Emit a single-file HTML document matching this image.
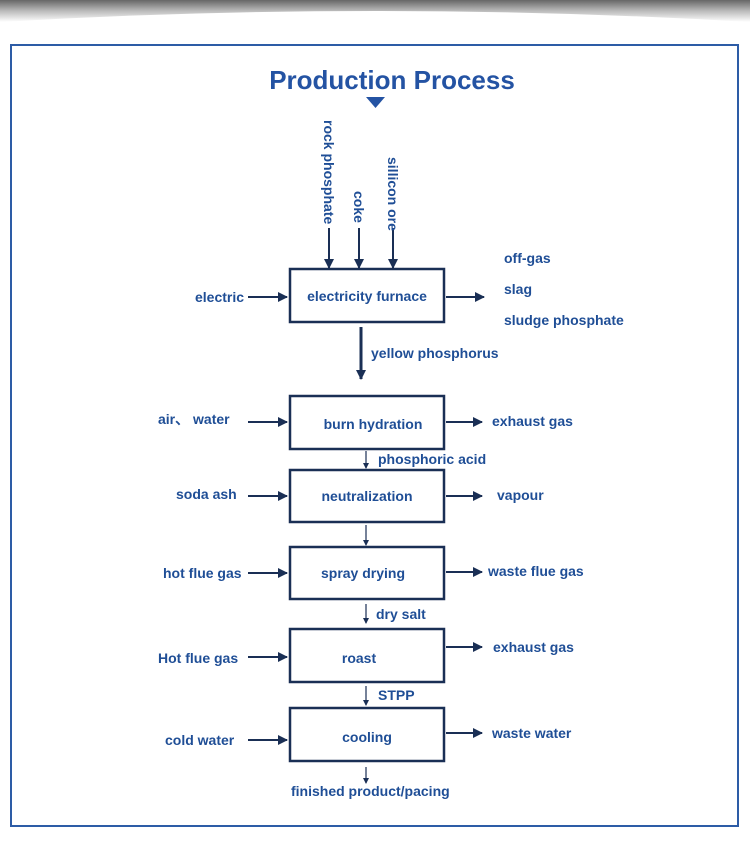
<!DOCTYPE html>
<html><head><meta charset="utf-8"><style>
html,body{margin:0;padding:0;background:#fff;width:750px;height:847px;overflow:hidden}
svg{display:block}
text{font-family:"Liberation Sans",Arial,sans-serif;fill:#1f4e96;font-size:14px;font-weight:bold}
</style></head><body>
<svg width="750" height="847" viewBox="0 0 750 847" xmlns="http://www.w3.org/2000/svg">
<defs>
<linearGradient id="sh" x1="0" y1="0" x2="0" y2="1">
<stop offset="0" stop-color="#666"/><stop offset="0.5" stop-color="#bbb"/><stop offset="1" stop-color="#fff"/>
</linearGradient>
<marker id="a" markerWidth="10" markerHeight="10" refX="9" refY="5" orient="auto" markerUnits="userSpaceOnUse">
<path d="M0,0 L10,5 L0,10 Z" fill="#1a2f55"/></marker>
<marker id="s" markerWidth="6" markerHeight="6" refX="5" refY="3" orient="auto" markerUnits="userSpaceOnUse">
<path d="M0,0 L6,3 L0,6 Z" fill="#1a2f55"/></marker>
</defs>
<path d="M0,0 L750,0 L750,22 Q375,0 0,22 Z" fill="url(#sh)"/>
<rect x="11" y="45" width="727" height="781" fill="none" stroke="#2d5ca6" stroke-width="2"/>
<text x="392" y="89" text-anchor="middle" style="font-size:26px;font-weight:bold;fill:#2453a3">Production Process</text>
<path d="M366,97 L385,97 L375.5,108 Z" fill="#2453a3"/>
<g stroke="#1a2f55" stroke-width="2.5" fill="none">
<rect x="290" y="269" width="154" height="53"/>
<rect x="290" y="396" width="154" height="53"/>
<rect x="290" y="470" width="154" height="52"/>
<rect x="290" y="547" width="154" height="52"/>
<rect x="290" y="629" width="154" height="53"/>
<rect x="290" y="708" width="154" height="53"/>
</g>
<g stroke="#1a2f55" stroke-width="2" fill="none">
<line x1="329" y1="228" x2="329" y2="268" marker-end="url(#a)"/>
<line x1="359" y1="228" x2="359" y2="268" marker-end="url(#a)"/>
<line x1="393" y1="228" x2="393" y2="268" marker-end="url(#a)"/>
<line x1="248" y1="297" x2="287" y2="297" marker-end="url(#a)"/>
<line x1="446" y1="297" x2="484" y2="297" marker-end="url(#a)"/>
<line x1="361" y1="327" x2="361" y2="379" stroke-width="3" marker-end="url(#a)"/>
<line x1="248" y1="422" x2="287" y2="422" marker-end="url(#a)"/>
<line x1="446" y1="422" x2="482" y2="422" marker-end="url(#a)"/>
<line x1="248" y1="496" x2="287" y2="496" marker-end="url(#a)"/>
<line x1="446" y1="496" x2="482" y2="496" marker-end="url(#a)"/>
<line x1="248" y1="573" x2="287" y2="573" marker-end="url(#a)"/>
<line x1="446" y1="572" x2="482" y2="572" marker-end="url(#a)"/>
<line x1="248" y1="657" x2="287" y2="657" marker-end="url(#a)"/>
<line x1="446" y1="647" x2="482" y2="647" marker-end="url(#a)"/>
<line x1="248" y1="740" x2="287" y2="740" marker-end="url(#a)"/>
<line x1="446" y1="733" x2="482" y2="733" marker-end="url(#a)"/>
</g>
<g stroke="#1a2f55" stroke-width="1.2">
<line x1="366" y1="451" x2="366" y2="468" marker-end="url(#s)"/>
<line x1="366" y1="525" x2="366" y2="545" marker-end="url(#s)"/>
<line x1="366" y1="604" x2="366" y2="623" marker-end="url(#s)"/>
<line x1="366" y1="686" x2="366" y2="705" marker-end="url(#s)"/>
<line x1="366" y1="767" x2="366" y2="783" marker-end="url(#s)"/>
</g>
<text transform="translate(324,120) rotate(90)">rock phosphate</text>
<text transform="translate(354,191) rotate(90)">coke</text>
<text transform="translate(388,157) rotate(90)">sillicon ore</text>
<g text-anchor="middle">
<text x="367" y="301">electricity furnace</text>
<text x="373" y="429">burn hydration</text>
<text x="367" y="501">neutralization</text>
<text x="363" y="578">spray drying</text>
<text x="359" y="663">roast</text>
<text x="367" y="742">cooling</text>
</g>
<text x="195" y="302">electric</text>
<text x="504" y="263">off-gas</text>
<text x="504" y="294">slag</text>
<text x="504" y="325">sludge phosphate</text>
<text x="371" y="358">yellow phosphorus</text>
<text x="158" y="424">air、 water</text>
<text x="492" y="426">exhaust gas</text>
<text x="378" y="464">phosphoric acid</text>
<text x="176" y="499">soda ash</text>
<text x="497" y="500">vapour</text>
<text x="163" y="578">hot flue gas</text>
<text x="488" y="576">waste flue gas</text>
<text x="376" y="619">dry salt</text>
<text x="158" y="663">Hot flue gas</text>
<text x="493" y="652">exhaust gas</text>
<text x="378" y="700">STPP</text>
<text x="165" y="745">cold water</text>
<text x="492" y="738">waste water</text>
<text x="291" y="796">finished product/pacing</text>
</svg>
</body></html>
